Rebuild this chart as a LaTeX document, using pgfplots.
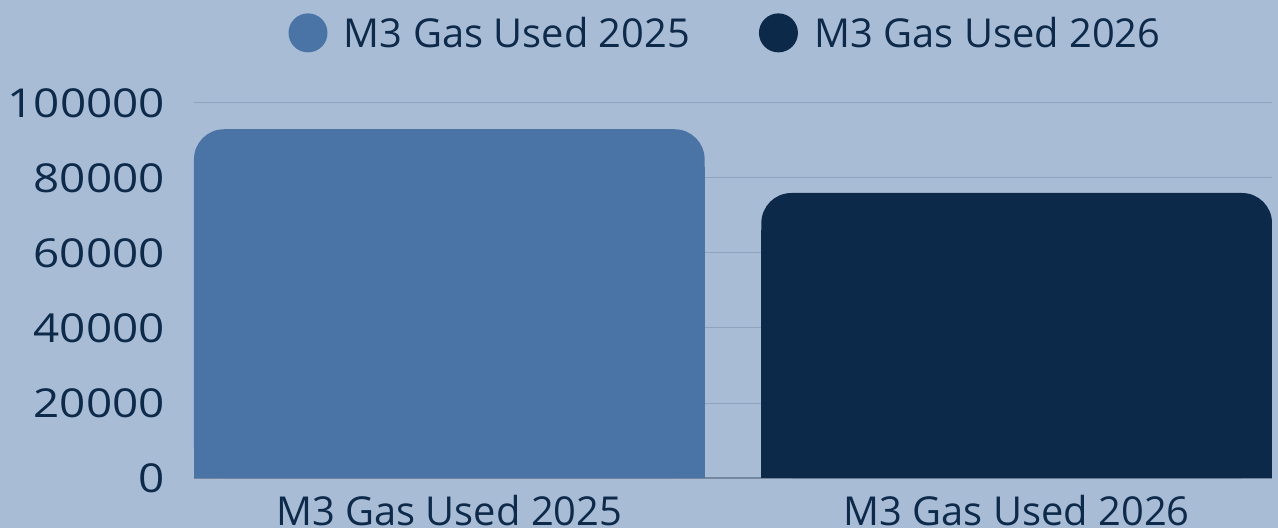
\documentclass[border=0pt]{standalone}
\usepackage{pgfplots}
\pgfplotsset{compat=1.18}
\usepackage{fontspec}
\setmainfont{Open Sans}
\definecolor{bg}{HTML}{A9BCD6}
\definecolor{barA}{HTML}{4A74A6}
\definecolor{barB}{HTML}{0C294A}
\definecolor{txt}{HTML}{0E2A4A}
\definecolor{grid}{HTML}{8FA3BF}
\definecolor{base}{HTML}{75879F}
\begin{document}
\begin{tikzpicture}
\path[use as bounding box, fill=bg] (-194bp,-50bp) rectangle (1084bp,478bp);
\begin{axis}[
  scale only axis,
  width=1078bp, height=375bp,
  xmin=-0.45, xmax=1.45,
  ymin=0, ymax=100000,
  xtick={0,1},
  xticklabels={M3 Gas Used 2025, M3 Gas Used 2026},
  ytick={0,20000,40000,60000,80000,100000},
  scaled y ticks=false,
  yticklabel={\pgfmathprintnumber[fixed,precision=0,1000 sep={}]{\tick}},
  /pgf/number format/assume math mode=true,
  major tick length=0pt,
  ymajorgrids,
  grid style={draw=grid, line width=1bp},
  axis x line*=bottom,
  axis y line*=left,
  y axis line style={draw=none},
  x axis line style={draw=base, line width=1.5bp, -},
  tick label style={font=\fontsize{40}{48}\selectfont, text=txt},
  yticklabel style={inner sep=0pt, xshift=-29bp, font=\fontsize{40}{48}\selectfont\addfontfeature{FakeStretch=1.15}},
  xticklabel style={inner sep=0pt, anchor=north, yshift=-17bp},
  ybar, bar width=0.9, bar shift=0pt,
  legend style={at={(0.493,1.187)}, anchor=center, draw=none, fill=none,
    font=\fontsize{40}{48}\selectfont, text=txt,
    legend columns=2,
    /tikz/every odd column/.style={column sep=14.5bp},
    /tikz/every even column/.style={column sep=67bp},
    legend cell align=left},
]
\addplot[fill=barA, draw=none, forget plot] coordinates {(0,83000)};
\addplot[fill=barB, draw=none, forget plot] coordinates {(1,66000)};
\addplot[fill=barA, draw=none, rounded corners=30bp,
  legend image code/.code={\fill[barA] (0bp,0bp) circle (19.5bp);}]
  coordinates {(0,93000)};
\addplot[fill=barB, draw=none, rounded corners=30bp,
  legend image code/.code={\fill[barB] (0bp,0bp) circle (19.5bp);}]
  coordinates {(1,76000)};
\legend{M3 Gas Used 2025, M3 Gas Used 2026}
\end{axis}
\end{tikzpicture}
\end{document}
